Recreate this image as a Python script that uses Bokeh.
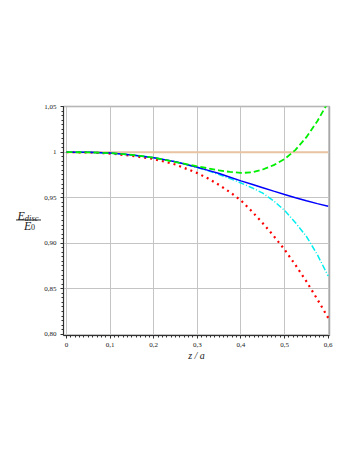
from bokeh.plotting import figure
from bokeh.layouts import row
from bokeh.models import Range1d, FixedTicker, CustomJSTickFormatter
from bokeh.core.properties import value
from bokeh.embed import file_html
from bokeh.resources import INLINE

z = [0, 0.05, 0.1, 0.15, 0.2, 0.25, 0.3, 0.325, 0.35, 0.375, 0.4, 0.425,
     0.45, 0.475, 0.5, 0.525, 0.55, 0.575, 0.6]
ref_line = [1.0] * len(z)
blue = [1.0, 0.9999, 0.9990, 0.9970, 0.9940, 0.9895, 0.9835, 0.9800, 0.9765,
        0.9725, 0.9685, 0.9648, 0.9610, 0.9572, 0.9535, 0.9500, 0.9467, 0.9435, 0.9405]
cyan = [1.0, 0.9999, 0.9990, 0.9970, 0.9940, 0.9895, 0.9832, 0.9795, 0.9755,
        0.9710, 0.9662, 0.9610, 0.9550, 0.9465, 0.9360, 0.9225, 0.9075, 0.8875, 0.8640]
red = [1.0, 0.9998, 0.9985, 0.9960, 0.9925, 0.9865, 0.9770, 0.9710, 0.9640,
       0.9560, 0.9470, 0.9350, 0.9220, 0.9080, 0.8930, 0.8760, 0.8580, 0.8385, 0.8180]
green = [1.0, 0.9999, 0.9990, 0.9970, 0.9940, 0.9892, 0.9845, 0.9822, 0.9800,
         0.9783, 0.9772, 0.9778, 0.9810, 0.9858, 0.9925, 1.0025, 1.0165, 1.0340, 1.0550]

x_ticks = [0, 0.1, 0.2, 0.3, 0.4, 0.5, 0.6]
y_ticks = [0.80, 0.85, 0.90, 0.95, 1.0, 1.05]

SERIF = "Liberation Serif"
H = 446
LW = 41

# ---- left panel holding the fraction-style y label ----
lf = figure(width=LW, height=H, output_backend="svg", toolbar_location=None,
            x_range=Range1d(0, LW), y_range=Range1d(0, H),
            x_axis_location=None, y_axis_location=None,
            min_border=0)
lf.grid.visible = False
lf.outline_line_color = None
lf.background_fill_color = "white"
lf.border_fill_color = "white"


def lab(text, px, py, size, style="italic", align="left"):
    lf.text(x=[px], y=[H - py], text=[text], text_font=value(SERIF),
            text_font_size=size, text_font_style=style, text_align=align,
            text_baseline="alphabetic", text_color="#1a1a1a")


lab("E", 17.0, 212.7, "12px")
lab("disc", 24.3, 216.3, "8.5px")
lf.line(x=[15.5, 40.5], y=[H - 221.0, H - 221.0], line_color="#1a1a1a", line_width=0.9)
lab("E", 23.6, 233.3, "12px")
lab("0", 30.6, 235.0, "8px", style="normal")

# ---- main plot ----
p = figure(width=349 - LW, height=H, output_backend="svg", toolbar_location=None,
           x_range=Range1d(-0.0069, 0.603), y_range=Range1d(0.7986, 1.0502),
           min_border_left=63 - LW, min_border_right=20, min_border_top=106,
           min_border_bottom=111)
p.background_fill_color = "white"
p.border_fill_color = "white"
p.outline_line_color = "#a8a8a8"
p.outline_line_width = 1.5

p.xaxis.ticker = FixedTicker(ticks=x_ticks, minor_ticks=[i / 100 for i in range(0, 61)])
p.yaxis.ticker = FixedTicker(ticks=y_ticks, minor_ticks=[0.8 + i * 0.005 for i in range(0, 51)])
p.xaxis.formatter = CustomJSTickFormatter(code="""
if (Math.abs(tick) < 1e-9) return "0";
return tick.toFixed(1).replace(".", ",");
""")
p.yaxis.formatter = CustomJSTickFormatter(code="""
if (Math.abs(tick - 1) < 1e-9) return "1";
return tick.toFixed(2).replace(".", ",");
""")
for ax in (p.xaxis, p.yaxis):
    ax.axis_line_color = "#303030"
    ax.axis_line_width = 1
    ax.major_tick_line_color = "#303030"
    ax.minor_tick_line_color = "#303030"
    ax.major_tick_out = 3
    ax.major_tick_in = 0
    ax.minor_tick_out = 2
    ax.minor_tick_in = 0
    ax.major_label_text_font = SERIF
    ax.major_label_text_font_size = "7px"
    ax.major_label_text_color = "#202020"
p.xaxis.major_label_standoff = 4
p.yaxis.major_label_standoff = 4

p.xaxis.axis_label = "z / a"
p.xaxis.axis_label_text_font = SERIF
p.xaxis.axis_label_text_font_style = "italic"
p.xaxis.axis_label_text_font_size = "10px"
p.xaxis.axis_label_text_color = "#202020"
p.xaxis.axis_label_standoff = 0

p.grid.grid_line_color = "#c4c4c4"
p.grid.grid_line_width = 1
p.xgrid.ticker = FixedTicker(ticks=x_ticks)
p.ygrid.ticker = FixedTicker(ticks=y_ticks)

p.line(z, ref_line, line_color="#E8C4A2", line_width=2)
p.line(z, red, line_color="#FF0000", line_width=2.2, line_dash="2 4")
p.line(z, cyan, line_color="#00EEEE", line_width=1.5, line_dash="6 2 1 2")
p.line(z, blue, line_color="#0000FF", line_width=1.5)
p.line(z, green, line_color="#00EE00", line_width=1.8, line_dash="6 3")

layout = row(lf, p, spacing=0)
open("out.html", "w").write(file_html(layout, INLINE))
